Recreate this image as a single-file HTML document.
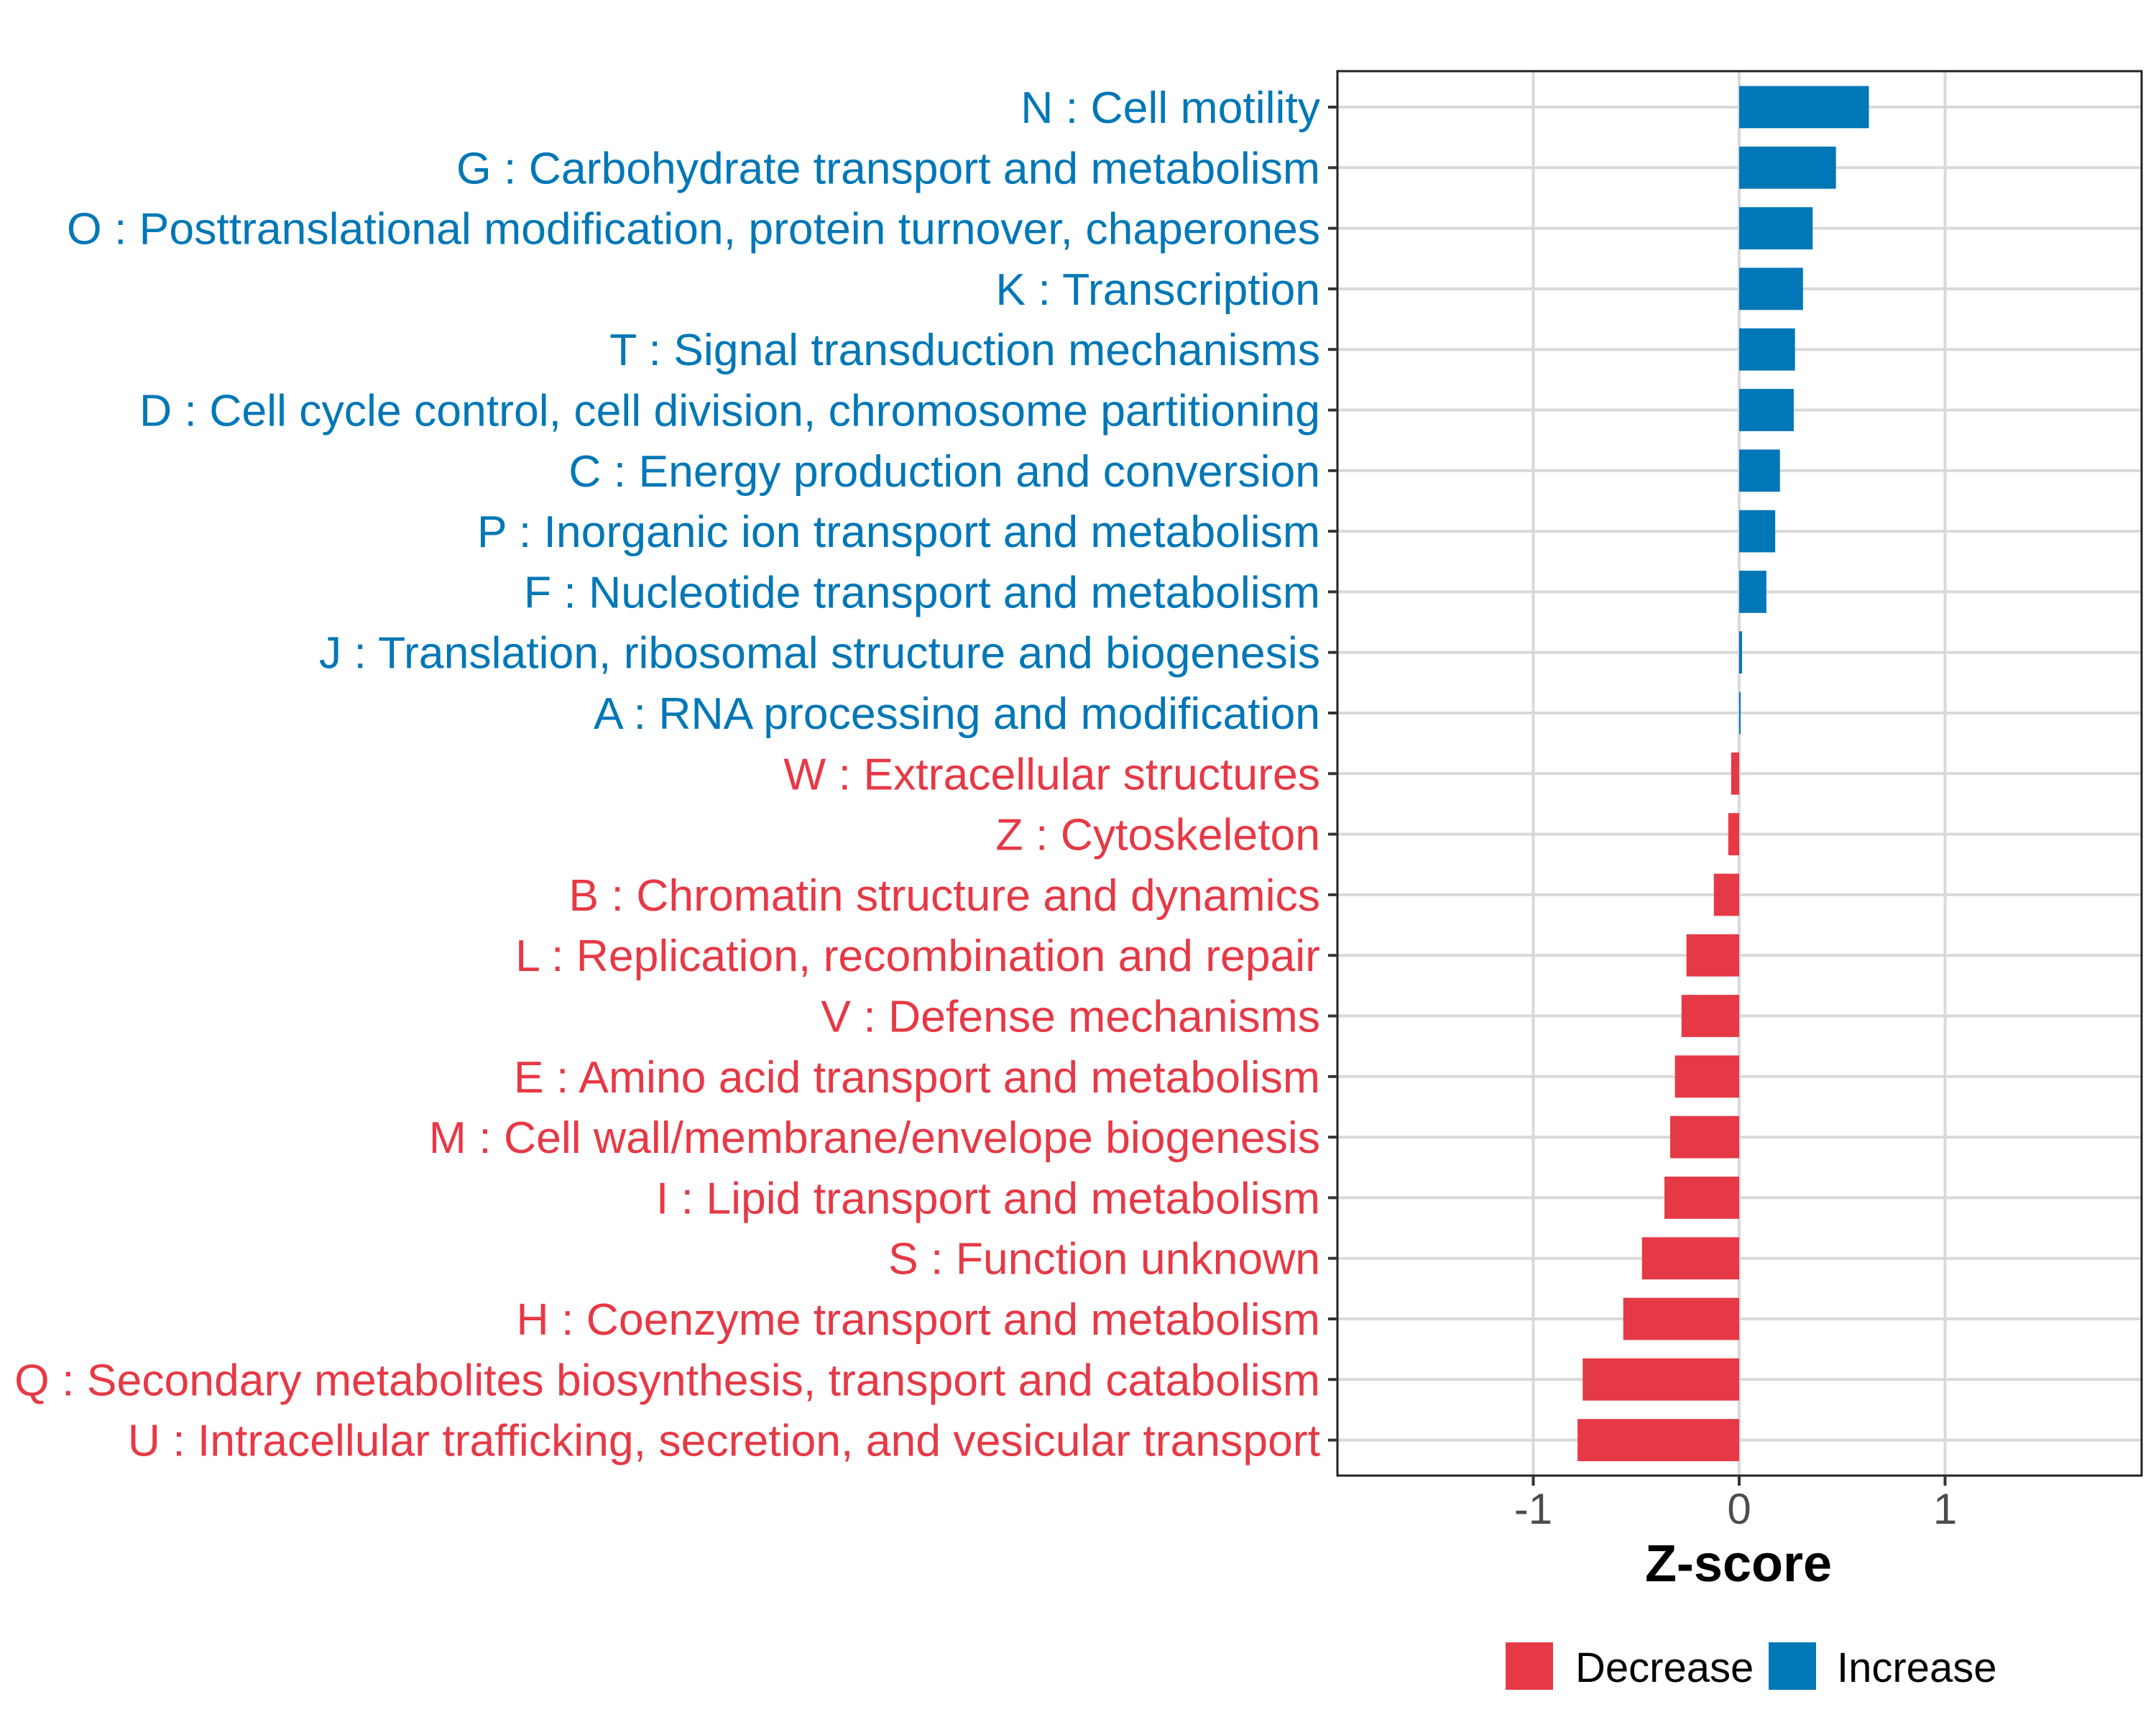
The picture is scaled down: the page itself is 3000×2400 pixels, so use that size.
<!DOCTYPE html>
<html><head><meta charset="utf-8"><style>
html,body{margin:0;padding:0;background:#fff;}
svg{display:block;}
text{font-family:"Liberation Sans",Arial,sans-serif;}
</style></head><body>
<svg id="chart" width="3000" height="2400" viewBox="0 0 3000 2400" xmlns="http://www.w3.org/2000/svg">
<rect x="0" y="0" width="3000" height="2400" fill="#fff"/>
<g id="grid"></g>
<g id="bars"></g>
<rect x="1861" y="99" width="1119" height="1954" fill="none" stroke="#222" stroke-width="3"/>
<g id="yaxis"></g>
<g id="xaxis"></g>
<text x="2419" y="2200" text-anchor="middle" font-size="72" font-weight="bold" fill="#000">Z-score</text>
<g>
  <rect x="2095" y="2285" width="66" height="66" fill="#E63946"/>
  <text x="2192" y="2340" font-size="58" fill="#000">Decrease</text>
  <rect x="2461" y="2285" width="66" height="66" fill="#0077B6"/>
  <text x="2556" y="2340" font-size="58" fill="#000">Increase</text>
</g>
</svg>
<script>
const categories = [
"N : Cell motility",
"G : Carbohydrate transport and metabolism",
"O : Posttranslational modification, protein turnover, chaperones",
"K : Transcription",
"T : Signal transduction mechanisms",
"D : Cell cycle control, cell division, chromosome partitioning",
"C : Energy production and conversion",
"P : Inorganic ion transport and metabolism",
"F : Nucleotide transport and metabolism",
"J : Translation, ribosomal structure and biogenesis",
"A : RNA processing and modification",
"W : Extracellular structures",
"Z : Cytoskeleton",
"B : Chromatin structure and dynamics",
"L : Replication, recombination and repair",
"V : Defense mechanisms",
"E : Amino acid transport and metabolism",
"M : Cell wall/membrane/envelope biogenesis",
"I : Lipid transport and metabolism",
"S : Function unknown",
"H : Coenzyme transport and metabolism",
"Q : Secondary metabolites biosynthesis, transport and catabolism",
"U : Intracellular trafficking, secretion, and vesicular transport"
];
const zscores = [0.63,0.47,0.357,0.31,0.271,0.265,0.198,0.175,0.132,0.014,0.007,-0.039,-0.053,-0.123,-0.256,-0.28,-0.312,-0.335,-0.363,-0.472,-0.563,-0.76,-0.785];
const xTicks = [-1,0,1];
const xTickLabels = ["-1","0","1"];

const NS="http://www.w3.org/2000/svg";
const PL=1861, PR=2980, PT=99, PB=2053;
const X0=2420, UNIT=286.5;
const ROW0=149, ROWSTEP=84.3, BARH=58.7;
const BLUE="#0077B6", RED="#E63946";
function xScale(v){return X0+v*UNIT;}
function yScale(i){return ROW0+i*ROWSTEP;}
function mk(tag,attrs,parent){const e=document.createElementNS(NS,tag);for(const k in attrs)e.setAttribute(k,attrs[k]);parent.appendChild(e);return e;}
const grid=document.getElementById('grid'), bars=document.getElementById('bars'), yaxis=document.getElementById('yaxis'), xaxis=document.getElementById('xaxis');

xTicks.forEach((t,j)=>{
  const x=xScale(t);
  const g=mk('line',{x1:x,x2:x,y1:PT,y2:PB,stroke:"#d9d9d9","stroke-width":4},grid);
  
  
  const tk=mk('line',{x1:x,x2:x,y1:PB,y2:PB+14,stroke:"#333","stroke-width":4},xaxis);
  
  
  const tl=mk('text',{x:x,y:2120,"text-anchor":"middle","font-size":60,fill:"#4d4d4d"},xaxis);
  tl.textContent=xTickLabels[j];
  
  
});
categories.forEach((c,i)=>{
  const y=yScale(i);
  const g=mk('line',{x1:PL,x2:PR,y1:y,y2:y,stroke:"#d9d9d9","stroke-width":4},grid);
  
  
  const v=zscores[i];
  const col=v>=0?BLUE:RED;
  const x1=xScale(Math.min(0,v)), x2=xScale(Math.max(0,v));
  const b=mk('rect',{x:x1,y:y-BARH/2,width:Math.max(x2-x1,0.5),height:BARH,fill:col},bars);
  
  
  const tk=mk('line',{x1:PL-13,x2:PL,y1:y,y2:y,stroke:"#333","stroke-width":4},yaxis);
  
  
  const tl=mk('text',{x:1837,y:y+22,"text-anchor":"end","font-size":62.5,fill:col},yaxis);
  tl.textContent=c;
  
  
});
</script>
</body></html>
